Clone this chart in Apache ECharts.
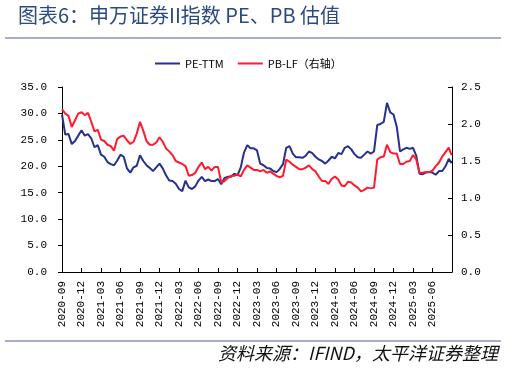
<!DOCTYPE html>
<html>
<head>
<meta charset="utf-8">
<script src="https://cdn.jsdelivr.net/npm/echarts@6/dist/echarts.min.js"></script>
<style>
html,body{margin:0;padding:0;background:#fff;}
#c{width:507px;height:368px;}
</style>
</head>
<body>
<div id="c"></div>
<script>
const titleText = '图表6：申万证券II指数 PE、PB 估值';
const sourceText = '资料来源：IFIND，太平洋证券整理';
const seriesNames = ['PE-TTM', 'PB-LF（右轴）'];

const dates = [
'2020-09-01','2020-09-16','2020-10-01','2020-10-16','2020-11-01','2020-11-16','2020-12-01','2020-12-16',
'2021-01-01','2021-01-16','2021-02-01','2021-02-16','2021-03-01','2021-03-16','2021-04-01','2021-04-16',
'2021-05-01','2021-05-16','2021-06-01','2021-06-16','2021-07-01','2021-07-16','2021-08-01','2021-08-16',
'2021-09-01','2021-09-16','2021-10-01','2021-10-16','2021-11-01','2021-11-16','2021-12-01','2021-12-16',
'2022-01-01','2022-01-16','2022-02-01','2022-02-16','2022-03-01','2022-03-16','2022-04-01','2022-04-16',
'2022-05-01','2022-05-16','2022-06-01','2022-06-16','2022-07-01','2022-07-16','2022-08-01','2022-08-16',
'2022-09-01','2022-09-16','2022-10-01','2022-10-16','2022-11-01','2022-11-16','2022-12-01','2022-12-16',
'2023-01-01','2023-01-16','2023-02-01','2023-02-16','2023-03-01','2023-03-16','2023-04-01','2023-04-16',
'2023-05-01','2023-05-16','2023-06-01','2023-06-16','2023-07-01','2023-07-16','2023-08-01','2023-08-16',
'2023-09-01','2023-09-16','2023-10-01','2023-10-16','2023-11-01','2023-11-16','2023-12-01','2023-12-16',
'2024-01-01','2024-01-16','2024-02-01','2024-02-16','2024-03-01','2024-03-16','2024-04-01','2024-04-16',
'2024-05-01','2024-05-16','2024-06-01','2024-06-16','2024-07-01','2024-07-16','2024-08-01','2024-08-16',
'2024-09-01','2024-09-16','2024-10-01','2024-10-16','2024-11-01','2024-11-16','2024-12-01','2024-12-16',
'2025-01-01','2025-01-16','2025-02-01','2025-02-16','2025-03-01','2025-03-16','2025-04-01','2025-04-16',
'2025-05-01','2025-05-16','2025-06-01','2025-06-16','2025-07-01','2025-07-16','2025-08-01','2025-08-16',
'2025-08-29'
];

const pe = [
29.8,26.0,26.1,24.2,24.8,25.8,26.8,25.8,
26.1,25.3,23.6,24.0,22.2,21.8,20.8,20.4,
20.2,21.1,22.2,21.8,19.6,18.8,19.8,20.1,
22.1,21.0,20.2,19.7,19.1,19.8,20.5,19.6,
18.3,17.3,17.2,16.7,15.7,15.3,17.3,16.0,
15.7,16.2,17.3,18.0,17.2,17.5,17.2,17.2,
17.6,16.6,17.8,18.0,18.0,18.6,18.3,19.8,
22.6,24.0,23.4,23.4,23.0,20.5,20.2,19.7,
19.6,19.1,18.9,19.5,20.4,23.5,23.8,22.4,
21.7,21.7,21.6,22.0,22.8,22.5,21.8,21.3,
21.0,20.5,21.1,21.8,21.5,22.5,22.3,23.5,
23.8,23.2,22.3,21.7,21.6,22.2,22.8,22.4,
22.8,27.8,28.0,28.4,32.0,30.2,29.8,27.5,
22.8,23.2,23.5,23.3,23.5,22.0,18.6,18.5,
18.8,18.9,18.8,18.4,19.1,19.1,20.0,21.4,
20.6
];

const pb = [
2.20,2.14,2.11,1.96,2.05,2.14,2.16,2.12,
2.15,2.03,1.90,1.92,1.79,1.77,1.72,1.70,
1.64,1.80,1.83,1.84,1.78,1.73,1.76,1.87,
2.03,1.91,1.77,1.72,1.72,1.75,1.82,1.76,
1.67,1.63,1.58,1.50,1.48,1.46,1.43,1.30,
1.31,1.34,1.42,1.48,1.39,1.42,1.37,1.42,
1.42,1.21,1.23,1.27,1.30,1.30,1.32,1.29,
1.38,1.44,1.41,1.38,1.38,1.36,1.38,1.34,
1.36,1.33,1.30,1.28,1.30,1.52,1.49,1.45,
1.42,1.39,1.39,1.41,1.44,1.39,1.36,1.29,
1.23,1.23,1.19,1.26,1.29,1.25,1.17,1.16,
1.22,1.21,1.17,1.14,1.09,1.11,1.14,1.13,
1.14,1.52,1.55,1.56,1.72,1.62,1.60,1.60,
1.46,1.46,1.49,1.50,1.58,1.52,1.34,1.34,
1.35,1.35,1.37,1.43,1.48,1.56,1.62,1.68,
1.58
];

const toMonth = s => { const p = s.split('-').map(Number); return (p[0]-2020)*12 + (p[1]-9) + (p[2]-1)/30; };
const fmtMonth = v => { const t = 8 + Math.round(v); return (2020 + Math.floor(t/12)) + '-' + String(t%12 + 1).padStart(2,'0'); };

const chart = echarts.init(document.getElementById('c'), null, {renderer:'canvas'});
const mono = 'Liberation Mono';
chart.setOption({
  animation: false,
  backgroundColor: '#fff',
  legend: {
    top: 53, left: 150, itemGap: 14, itemWidth: 25, itemHeight: 2, icon: 'rect',
    textStyle: {fontFamily: 'Noto Sans CJK SC', fontSize: 11, color: '#000'},
    data: seriesNames
  },
  grid: {left: 62, right: 55, top: 87, bottom: 96, containLabel: false},
  xAxis: {
    type: 'value', min: 0, max: 60, interval: 3,
    axisLine: {lineStyle: {color: '#000', width: 1}},
    axisTick: {inside: true, length: 4, lineStyle: {color: '#000'}},
    splitLine: {show: false},
    axisLabel: {rotate: 90, margin: 9, fontFamily: mono, fontSize: 11, color: '#000',
      formatter: v => v >= 60 ? '' : fmtMonth(v)}
  },
  yAxis: [
    {type: 'value', min: 0, max: 35, interval: 5, position: 'left',
     axisLine: {show: true, lineStyle: {color: '#000'}},
     axisTick: {show: true, length: 4, lineStyle: {color: '#000'}},
     splitLine: {show: false},
     axisLabel: {margin: 15, fontFamily: mono, fontSize: 11, color: '#000', formatter: v => v.toFixed(1)}},
    {type: 'value', min: 0, max: 2.5, interval: 0.5, position: 'right',
     axisLine: {show: true, lineStyle: {color: '#000'}},
     axisTick: {show: true, inside: true, length: 4, lineStyle: {color: '#000'}},
     splitLine: {show: false},
     axisLabel: {margin: 9, fontFamily: mono, fontSize: 11, color: '#000', formatter: v => v.toFixed(1)}}
  ],
  series: [
    {name: seriesNames[0], type: 'line', yAxisIndex: 0, showSymbol: false, symbol: 'none',
     lineStyle: {color: '#25318c', width: 2}, itemStyle: {color: '#25318c'},
     data: dates.map((d, i) => [toMonth(d), pe[i]])},
    {name: seriesNames[1], type: 'line', yAxisIndex: 1, showSymbol: false, symbol: 'none',
     lineStyle: {color: '#ff1a2e', width: 2}, itemStyle: {color: '#ff1a2e'},
     data: dates.map((d, i) => [toMonth(d), pb[i]])}
  ],
  graphic: [
    {type: 'text', x: 18, y: 5,
     style: {text: titleText, x: 0, y: 0, align: 'left', verticalAlign: 'top',
             font: 'normal 20px "Noto Sans CJK SC"', fill: '#2b4b80'}},
    {type: 'line', shape: {x1: 5, y1: 38, x2: 501, y2: 38}, style: {stroke: '#a8aecb', lineWidth: 2}},
    {type: 'line', shape: {x1: 5, y1: 341, x2: 501, y2: 341}, style: {stroke: '#a8aecb', lineWidth: 2}},
    {type: 'text', x: 498, y: 344,
     style: {text: sourceText, x: 0, y: 0, align: 'right', verticalAlign: 'top',
             font: 'italic 18px "Noto Sans CJK SC"', fill: '#111'}}
  ]
});
</script>
</body>
</html>
